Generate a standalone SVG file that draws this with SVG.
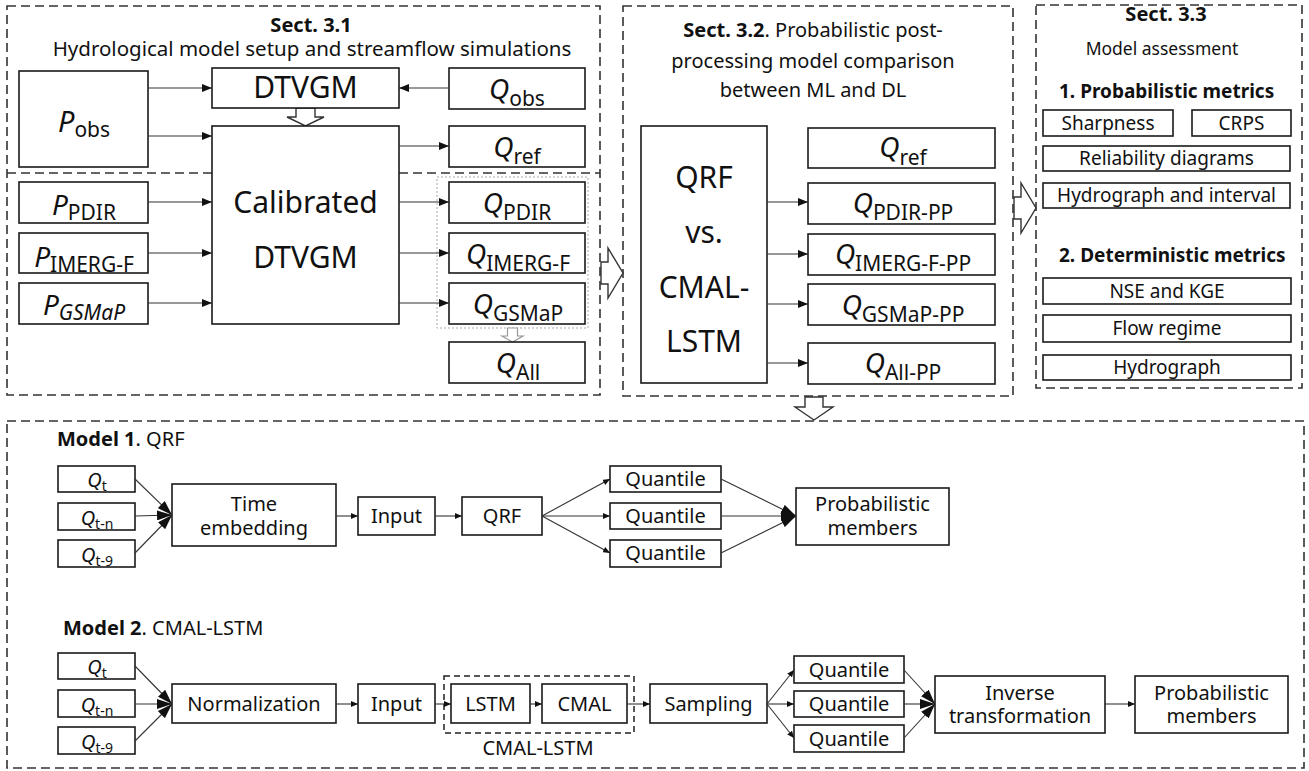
<svg xmlns="http://www.w3.org/2000/svg" width="1309" height="771" viewBox="0 0 1309 771">
<style>
text{font-family:"Noto Sans","Open Sans","DejaVu Sans",sans-serif;fill:#111}
.b{fill:#fff;stroke:#1a1a1a;stroke-width:1.6}
.sec{fill:none;stroke:#333;stroke-width:1.6;stroke-dasharray:9 5}
.c{stroke:#333;stroke-width:1.1;fill:none}
.blk{fill:#fff;stroke:#333;stroke-width:1.4}
.t20{font-size:20px}
.t19{font-size:19px}
.t30{font-size:30px}
.bd{font-weight:bold}
.q{font-style:italic;font-size:28px}
.s{font-size:21px}
.qs{font-style:italic;font-size:20px}
.ss{font-size:14px}
</style>
<defs>
<marker id="ah" markerWidth="10" markerHeight="8" refX="10" refY="4" orient="auto" markerUnits="userSpaceOnUse"><path d="M0,0L10,4L0,8z" fill="#111"/></marker>
<marker id="as" markerWidth="7" markerHeight="6" refX="7" refY="3" orient="auto" markerUnits="userSpaceOnUse"><path d="M0,0L7,3L0,6z" fill="#111"/></marker>
<marker id="ab" markerWidth="15" markerHeight="10" refX="15" refY="5" orient="auto" markerUnits="userSpaceOnUse"><path d="M0,0L15,5L0,10z" fill="#111"/></marker>
</defs>
<rect width="1309" height="771" fill="#fff"/>

<!-- section frames -->
<g id="sect31">
<rect class="sec" x="7" y="6" width="593" height="389"/>
<line class="sec" x1="7" y1="173" x2="600" y2="173"/>
<text x="311" y="32" text-anchor="middle" class="t20 bd">Sect. 3.1</text>
<text x="312" y="56" text-anchor="middle" style="font-size:20.5px">Hydrological model setup and streamflow simulations</text>
<rect x="437" y="177" width="151" height="151" fill="none" stroke="#aaa" stroke-width="1" stroke-dasharray="2 2"/>
</g>
<g id="sect32">
<rect class="sec" x="623" y="6" width="390" height="390"/>
<text text-anchor="middle" class="t20"><tspan x="813" y="37"><tspan class="bd">Sect. 3.2</tspan>. Probabilistic post-</tspan><tspan x="813" y="67.5">processing model comparison</tspan><tspan x="813" y="97">between ML and DL</tspan></text>
</g>
<g id="sect33">
<rect class="sec" x="1036" y="5" width="266" height="383"/>
<text x="1166" y="21" text-anchor="middle" class="t20 bd">Sect. 3.3</text>
<text x="1162" y="55" text-anchor="middle" style="font-size:17.5px">Model assessment</text>
<text x="1059" y="98" class="t19 bd">1. Probabilistic metrics</text>
<text x="1059" y="262" class="t19 bd">2. Deterministic metrics</text>
</g>
<g id="models">
<rect class="sec" x="7" y="421" width="1297" height="347"/>
<text x="57" y="446" class="t20"><tspan class="bd">Model 1</tspan>. QRF</text>
<text x="63" y="635" class="t20"><tspan class="bd">Model 2</tspan>. CMAL-LSTM</text>
<rect x="444" y="676" width="190" height="57" fill="none" stroke="#222" stroke-width="1.5" stroke-dasharray="6 4"/>
<text x="538" y="755" text-anchor="middle" class="t20">CMAL-LSTM</text>
</g>

<!-- block arrows -->
<g id="block-arrows">
<polygon class="blk" points="296,108 315,108 315,117 324,117 305.5,126 287,117 296,117"/>
<polygon points="507.5,328 517.5,328 517.5,336 523,336 512.5,342 502,336 507.5,336" fill="#fff" stroke="#999" stroke-width="1.2"/>
<polygon class="blk" points="601,262 608,262 608,248 623,273 608,298 608,284 601,284"/>
<polygon class="blk" points="1014,197 1021,197 1021,183 1036,208 1021,233 1021,219 1014,219"/>
<polygon class="blk" points="805,397 823,397 823,407 833,407 814,420 795,407 805,407"/>
</g>

<!-- Sect 3.1 nodes -->
<g id="p-obs"><rect class="b" x="19" y="71" width="129" height="96"/><text x="84" y="132" text-anchor="middle"><tspan class="q" style="font-size:29px">P</tspan><tspan class="s" dy="5">obs</tspan></text></g>
<g id="dtvgm"><rect class="b" x="212" y="68" width="187" height="40"/><text x="305.5" y="98" text-anchor="middle" class="t30">DTVGM</text></g>
<g id="q-obs"><rect class="b" x="449" y="68" width="136" height="41"/><text x="517" y="99" text-anchor="middle"><tspan class="q">Q</tspan><tspan class="s" dy="7">obs</tspan></text></g>
<g id="cal-dtvgm"><rect class="b" x="212" y="126" width="187" height="198"/><text text-anchor="middle" class="t30"><tspan x="305.5" y="213">Calibrated</tspan><tspan x="305.5" y="268">DTVGM</tspan></text></g>
<g id="q-ref"><rect class="b" x="449" y="126" width="136" height="41"/><text x="517" y="157" text-anchor="middle"><tspan class="q">Q</tspan><tspan class="s" dy="7">ref</tspan></text></g>
<g id="p-pdir"><rect class="b" x="19" y="182" width="129" height="41"/><text x="84" y="215" text-anchor="middle"><tspan class="q">P</tspan><tspan class="s" dy="5">PDIR</tspan></text></g>
<g id="p-imerg"><rect class="b" x="19" y="233" width="129" height="40"/><text x="84" y="267" text-anchor="middle"><tspan class="q">P</tspan><tspan class="s" dy="5">IMERG-F</tspan></text></g>
<g id="p-gsmap"><rect class="b" x="19" y="283" width="129" height="41"/><text x="84" y="315" text-anchor="middle"><tspan class="q">P</tspan><tspan class="s" dy="5" font-style="italic">GSMaP</tspan></text></g>
<g id="q-pdir"><rect class="b" x="449" y="182" width="136" height="41"/><text x="517" y="213" text-anchor="middle"><tspan class="q">Q</tspan><tspan class="s" dy="7">PDIR</tspan></text></g>
<g id="q-imerg"><rect class="b" x="449" y="233" width="136" height="40"/><text x="518" y="264" text-anchor="middle"><tspan class="q">Q</tspan><tspan class="s" dy="7">IMERG-F</tspan></text></g>
<g id="q-gsmap"><rect class="b" x="449" y="283" width="136" height="41"/><text x="518" y="314" text-anchor="middle"><tspan class="q">Q</tspan><tspan class="s" dy="7">GSMaP</tspan></text></g>
<g id="q-all"><rect class="b" x="449" y="342" width="136" height="41"/><text x="518" y="373" text-anchor="middle"><tspan class="q">Q</tspan><tspan class="s" dy="7">All</tspan></text></g>

<!-- Sect 3.2 nodes -->
<g id="qrf-vs-cmal"><rect class="b" x="641" y="126" width="126" height="257"/>
<text text-anchor="middle" style="font-size:30px"><tspan x="704" y="188">QRF</tspan><tspan x="704" y="243">vs.</tspan><tspan x="704" y="298">CMAL-</tspan><tspan x="704" y="352">LSTM</tspan></text></g>
<g id="q-ref-2"><rect class="b" x="808" y="128" width="187" height="40"/><text x="903" y="157" text-anchor="middle"><tspan class="q">Q</tspan><tspan class="s" dy="8">ref</tspan></text></g>
<g id="q-pdir-pp"><rect class="b" x="808" y="183" width="187" height="41"/><text x="903" y="213" text-anchor="middle"><tspan class="q">Q</tspan><tspan class="s" dy="7">PDIR-PP</tspan></text></g>
<g id="q-imerg-pp"><rect class="b" x="808" y="234" width="187" height="41"/><text x="903" y="264" text-anchor="middle"><tspan class="q">Q</tspan><tspan class="s" dy="7">IMERG-F-PP</tspan></text></g>
<g id="q-gsmap-pp"><rect class="b" x="808" y="284" width="187" height="41"/><text x="903" y="315" text-anchor="middle"><tspan class="q">Q</tspan><tspan class="s" dy="7">GSMaP-PP</tspan></text></g>
<g id="q-all-pp"><rect class="b" x="808" y="343" width="187" height="41"/><text x="903" y="373" text-anchor="middle"><tspan class="q">Q</tspan><tspan class="s" dy="7">All-PP</tspan></text></g>

<!-- Sect 3.3 nodes -->
<g id="sharpness"><rect class="b" x="1043" y="110" width="130" height="26"/><text x="1108" y="130" text-anchor="middle" class="t19">Sharpness</text></g>
<g id="crps"><rect class="b" x="1192" y="110" width="99" height="26"/><text x="1241.5" y="130" text-anchor="middle" class="t19">CRPS</text></g>
<g id="reliability"><rect class="b" x="1043" y="146" width="247" height="25"/><text x="1166.5" y="165" text-anchor="middle" class="t19">Reliability diagrams</text></g>
<g id="hydrograph-interval"><rect class="b" x="1043" y="183" width="247" height="25"/><text x="1166.5" y="202" text-anchor="middle" class="t19">Hydrograph and interval</text></g>
<g id="nse-kge"><rect class="b" x="1043" y="278" width="248" height="26"/><text x="1167" y="298" text-anchor="middle" class="t19">NSE and KGE</text></g>
<g id="flow-regime"><rect class="b" x="1043" y="315" width="248" height="27"/><text x="1167" y="335" text-anchor="middle" class="t19">Flow regime</text></g>
<g id="hydrograph"><rect class="b" x="1043" y="355" width="248" height="25"/><text x="1167" y="374" text-anchor="middle" class="t19">Hydrograph</text></g>

<!-- Model 1 nodes -->
<g id="m1-qt"><rect class="b" x="58" y="466" width="77" height="26"/><text x="97" y="487" text-anchor="middle"><tspan class="qs">Q</tspan><tspan class="ss" dy="4">t</tspan></text></g>
<g id="m1-qtn"><rect class="b" x="58" y="503" width="77" height="27"/><text x="97" y="525" text-anchor="middle"><tspan class="qs">Q</tspan><tspan class="ss" dy="4">t-n</tspan></text></g>
<g id="m1-qt9"><rect class="b" x="58" y="540" width="77" height="27"/><text x="97" y="562" text-anchor="middle"><tspan class="qs">Q</tspan><tspan class="ss" dy="4">t-9</tspan></text></g>
<g id="m1-time"><rect class="b" x="172" y="484" width="164" height="62"/><text text-anchor="middle" class="t20"><tspan x="254" y="511">Time</tspan><tspan x="254" y="535">embedding</tspan></text></g>
<g id="m1-input"><rect class="b" x="358" y="497" width="77" height="38"/><text x="396.5" y="523" text-anchor="middle" class="t20">Input</text></g>
<g id="m1-qrf"><rect class="b" x="462" y="497" width="80" height="38"/><text x="502" y="523" text-anchor="middle" class="t20">QRF</text></g>
<g id="m1-quant1"><rect class="b" x="610" y="466" width="111" height="26"/><text x="665.5" y="486" text-anchor="middle" class="t20">Quantile</text></g>
<g id="m1-quant2"><rect class="b" x="610" y="503" width="111" height="26"/><text x="665.5" y="523" text-anchor="middle" class="t20">Quantile</text></g>
<g id="m1-quant3"><rect class="b" x="610" y="540" width="111" height="27"/><text x="665.5" y="560" text-anchor="middle" class="t20">Quantile</text></g>
<g id="m1-members"><rect class="b" x="796" y="488" width="153" height="57"/><text text-anchor="middle" class="t20"><tspan x="872.5" y="511">Probabilistic</tspan><tspan x="872.5" y="535">members</tspan></text></g>

<!-- Model 2 nodes -->
<g id="m2-qt"><rect class="b" x="58" y="653" width="77" height="26"/><text x="97" y="674" text-anchor="middle"><tspan class="qs">Q</tspan><tspan class="ss" dy="4">t</tspan></text></g>
<g id="m2-qtn"><rect class="b" x="58" y="690" width="77" height="27"/><text x="97" y="712" text-anchor="middle"><tspan class="qs">Q</tspan><tspan class="ss" dy="4">t-n</tspan></text></g>
<g id="m2-qt9"><rect class="b" x="58" y="727" width="77" height="27"/><text x="97" y="749" text-anchor="middle"><tspan class="qs">Q</tspan><tspan class="ss" dy="4">t-9</tspan></text></g>
<g id="m2-norm"><rect class="b" x="172" y="684" width="164" height="39"/><text x="254" y="711" text-anchor="middle" class="t20">Normalization</text></g>
<g id="m2-input"><rect class="b" x="358" y="684" width="77" height="39"/><text x="396.5" y="711" text-anchor="middle" class="t20">Input</text></g>
<g id="m2-lstm"><rect class="b" x="451" y="684" width="79" height="39"/><text x="490.5" y="711" text-anchor="middle" class="t20">LSTM</text></g>
<g id="m2-cmal"><rect class="b" x="542" y="684" width="85" height="39"/><text x="584.5" y="711" text-anchor="middle" class="t20">CMAL</text></g>
<g id="m2-sampling"><rect class="b" x="650" y="684" width="117" height="39"/><text x="708.5" y="711" text-anchor="middle" class="t20">Sampling</text></g>
<g id="m2-quant1"><rect class="b" x="794" y="656" width="110" height="27"/><text x="849" y="677" text-anchor="middle" class="t20">Quantile</text></g>
<g id="m2-quant2"><rect class="b" x="794" y="691" width="110" height="26"/><text x="849" y="711" text-anchor="middle" class="t20">Quantile</text></g>
<g id="m2-quant3"><rect class="b" x="794" y="725" width="110" height="27"/><text x="849" y="746" text-anchor="middle" class="t20">Quantile</text></g>
<g id="m2-inverse"><rect class="b" x="935" y="676" width="170" height="57"/><text text-anchor="middle" class="t20"><tspan x="1020" y="700">Inverse</tspan><tspan x="1020" y="723">transformation</tspan></text></g>
<g id="m2-members"><rect class="b" x="1135" y="676" width="153" height="57"/><text text-anchor="middle" class="t20"><tspan x="1211.5" y="700">Probabilistic</tspan><tspan x="1211.5" y="723">members</tspan></text></g>

<!-- connectors -->
<g id="connectors">
<g marker-end="url(#ah)" class="c">
<line x1="148" y1="88" x2="212" y2="88"/>
<line x1="148" y1="136" x2="212" y2="136"/>
<line x1="449" y1="88" x2="399" y2="88"/>
<line x1="399" y1="146" x2="449" y2="146"/>
<line x1="148" y1="202" x2="212" y2="202"/>
<line x1="148" y1="253" x2="212" y2="253"/>
<line x1="148" y1="303" x2="212" y2="303"/>
<line x1="399" y1="202" x2="449" y2="202"/>
<line x1="399" y1="253" x2="449" y2="253"/>
<line x1="399" y1="303" x2="449" y2="303"/>
<line x1="767" y1="202" x2="808" y2="202"/>
<line x1="767" y1="254" x2="808" y2="254"/>
<line x1="767" y1="304" x2="808" y2="304"/>
<line x1="767" y1="363" x2="808" y2="363"/>
</g>
<g marker-end="url(#ab)" class="c">
<line x1="135" y1="479" x2="172" y2="515"/>
<line x1="135" y1="516" x2="172" y2="515"/>
<line x1="135" y1="553" x2="172" y2="515"/>
<line x1="721" y1="479" x2="796" y2="516"/>
<line x1="721" y1="516" x2="796" y2="516"/>
<line x1="721" y1="553" x2="796" y2="516"/>
<line x1="135" y1="666" x2="172" y2="704"/>
<line x1="135" y1="704" x2="172" y2="704"/>
<line x1="135" y1="741" x2="172" y2="704"/>
<line x1="904" y1="670" x2="935" y2="704"/>
<line x1="904" y1="704" x2="935" y2="704"/>
<line x1="904" y1="738" x2="935" y2="704"/>
</g>
<g marker-end="url(#as)" class="c">
<line x1="336" y1="516" x2="358" y2="516"/>
<line x1="435" y1="516" x2="462" y2="516"/>
<line x1="542" y1="516" x2="610" y2="479"/>
<line x1="542" y1="516" x2="610" y2="516"/>
<line x1="542" y1="516" x2="610" y2="553"/>
<line x1="336" y1="704" x2="358" y2="704"/>
<line x1="435" y1="704" x2="451" y2="704"/>
<line x1="530" y1="704" x2="542" y2="704"/>
<line x1="627" y1="704" x2="650" y2="704"/>
<line x1="767" y1="704" x2="794" y2="670"/>
<line x1="767" y1="704" x2="794" y2="704"/>
<line x1="767" y1="704" x2="794" y2="738"/>
<line x1="1105" y1="704" x2="1135" y2="704"/>
</g>
</g>
</svg>
